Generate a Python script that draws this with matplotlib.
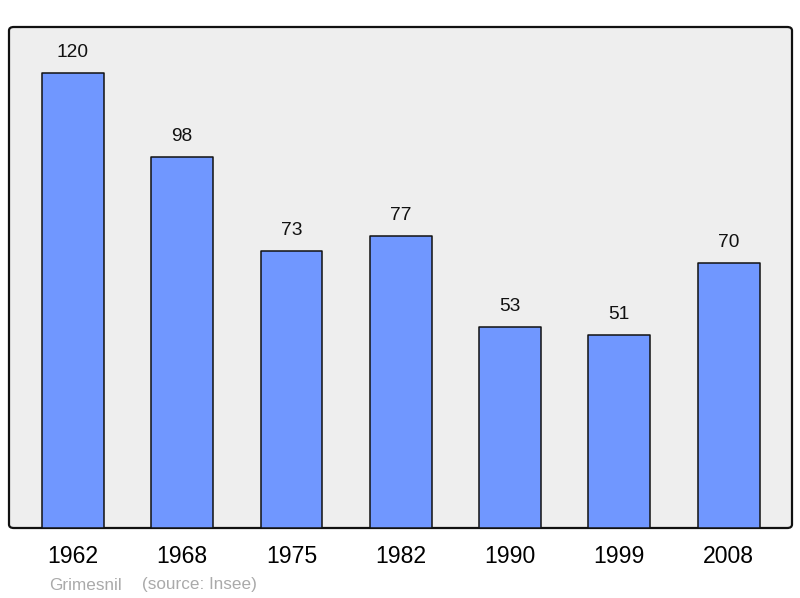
import matplotlib
matplotlib.use("Agg")
import matplotlib.pyplot as plt
from matplotlib.patches import FancyBboxPatch

years = ["1962", "1968", "1975", "1982", "1990", "1999", "2008"]
population = [120, 98, 73, 77, 53, 51, 70]

plt.rcParams["font.family"] = ["Liberation Sans", "DejaVu Sans"]

fig = plt.figure(figsize=(8, 5.98), dpi=100)
left, bottom, width, height = 9 / 800, 70 / 598, 783 / 800, 501 / 598
ax = fig.add_axes([left, bottom, width, height])
ax.set_facecolor("none")
ax.set_zorder(2)

# rounded frame behind the axes
frame = FancyBboxPatch(
    (left, bottom), width, height,
    boxstyle="round,pad=0,rounding_size=0.006",
    transform=fig.transFigure, facecolor="#eeeeee",
    edgecolor="#111111", linewidth=1.6, zorder=0,
)
fig.patches.append(frame)

x = list(range(len(years)))
ax.bar(x, population, width=0.566, color="#7097ff", edgecolor="#111111",
       linewidth=1.1, joinstyle="round", zorder=2)
for xi, v in zip(x, population):
    ax.text(xi, v + 5.4, str(v), ha="center", va="center", fontsize=13.8,
            color="#111111")

ax.set_xlim(-0.585, 6.58)
ax.set_ylim(0, 132.2)
for s in ax.spines.values():
    s.set_visible(False)
ax.set_yticks([])
ax.set_xticks(x)
ax.set_xticklabels(years, fontsize=16.6)
ax.tick_params(axis="x", length=0, pad=12.5)

fig.text(49 / 800, 1 - 585 / 598, "Grimesnil", fontsize=12.3, color="#aaaaaa",
         va="center", ha="left")
fig.text(142 / 800, 1 - 585 / 598, "(source: Insee)", fontsize=12.3,
         color="#aaaaaa", va="center", ha="left")

fig.savefig("out.png", dpi=100)
